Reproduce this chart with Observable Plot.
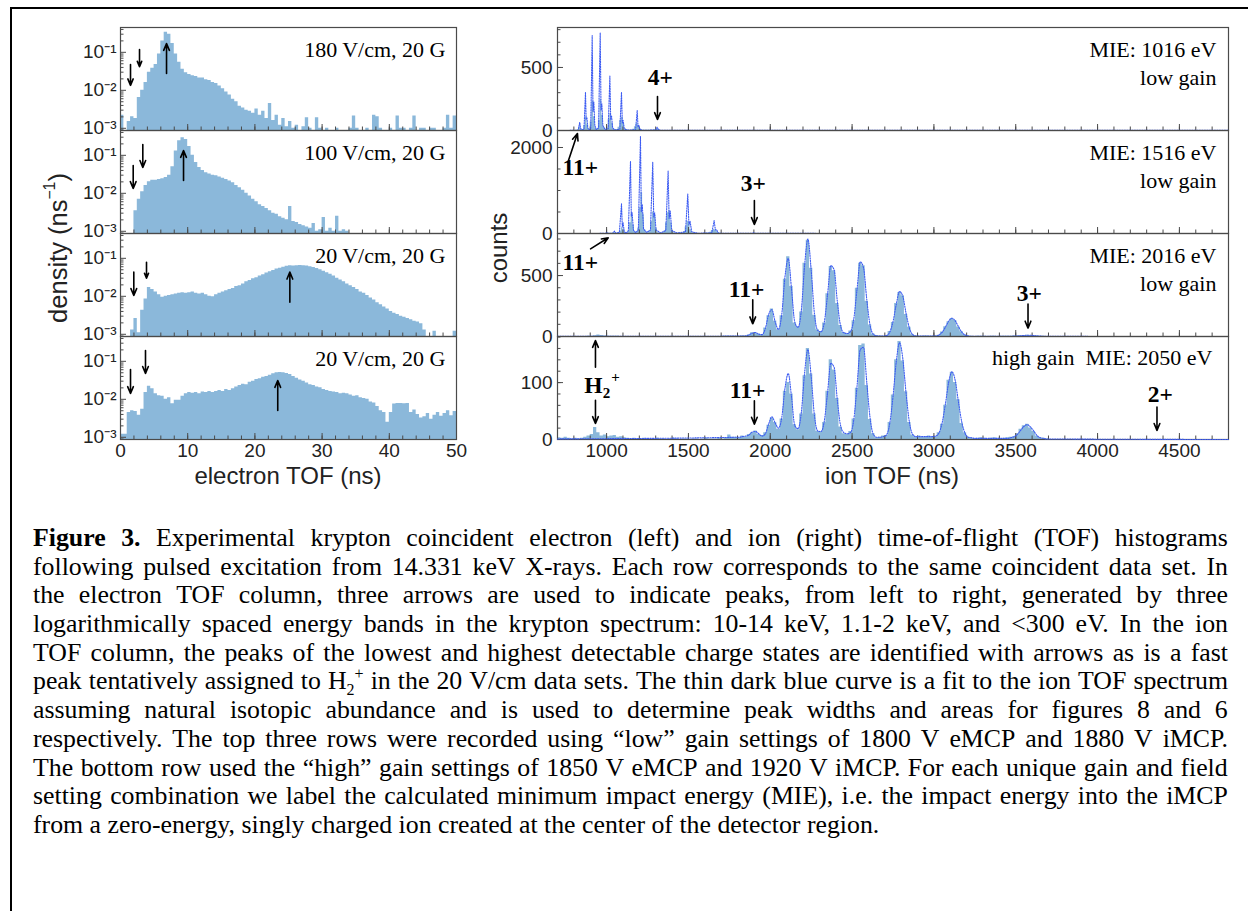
<!DOCTYPE html>
<html><head><meta charset="utf-8">
<script src="https://cdn.jsdelivr.net/npm/d3@7"></script>
<script src="https://cdn.jsdelivr.net/npm/@observablehq/plot@0.6"></script>
<style>
html,body{margin:0;padding:0;background:#fff;}
body{width:1248px;height:911px;overflow:hidden;position:relative;}
#frame{position:absolute;left:10px;top:7px;width:1400px;height:1100px;border:2.5px solid #000;}
#chart{position:absolute;left:0;top:0;width:1248px;height:911px;}
.axlab{position:absolute;font-family:"Liberation Sans",Arial,sans-serif;font-size:24px;color:#222;white-space:nowrap;transform:translate(-50%,-50%);}
.axlab.rot{transform:translate(-50%,-50%) rotate(-90deg);}
.axlab sup{font-size:0.62em;line-height:0;vertical-align:0.7em;}
#caption{position:absolute;left:33px;top:524px;width:1195px;font-family:"Liberation Serif","Times New Roman",serif;font-size:25.8px;line-height:28.7px;color:#000;}
#caption .ln{display:flex;justify-content:space-between;white-space:nowrap;height:28.7px;}
#caption .last{white-space:nowrap;height:28.7px;}
#caption sub,#caption sup{font-size:0.62em;line-height:0;}
</style></head><body>
<div id="frame"></div>
<div id="chart"></div>
<div class="axlab rot" style="left:58px;top:248px;font-size:25.5px;">density (ns<sup>−1</sup>)</div>
<div class="axlab rot" style="left:499px;top:248px;">counts</div>
<div class="axlab" style="left:288px;top:476px;">electron TOF (ns)</div>
<div class="axlab" style="left:892px;top:476px;">ion TOF (ns)</div>
<div id="caption"></div>
<script>
// ---------------- DATA ----------------
// electron TOF histograms: density per 0.5 ns bin, starting at 0 ns
const eStart = 0, eBin = 0.5;
const eDens1 = [0.0022,0,0.0015,0.002,0.0018,0.0065,0.010,0.016,0.030,0.038,
0.048,0.09,0.20,0.34,0.30,0.17,0.09,0.055,0.036,0.029,
0.026,0.024,0.023,0.021,0.021,0.019,0.018,0.016,0.015,0.013,
0.011,0.009,0.0075,0.0058,0.005,0.0038,0.0034,0.003,0.0028,0.0025,
0.0032,0.0022,0.0028,0.0018,0.0045,0.0016,0.0022,0.0012,0.0018,0.0011,
0.0015,0.001,0.0012,0,0.0011,0.0019,0.001,0,0.0019,0.001,
0,0.001,0,0,0.001,0,0,0,0.001,0.0021,
0.001,0,0,0.001,0,0.0022,0.002,0.001,0,0,
0.001,0,0.0021,0.001,0.001,0,0.001,0.0021,0,0.001,
0.001,0,0.001,0.001,0,0,0.001,0.0022,0.001,0.0021];
const eDens2 = [0,0,0,0,0.0035,0.007,0.011,0.016,0.020,0.022,
0.022,0.023,0.024,0.026,0.030,0.05,0.13,0.24,0.29,0.26,
0.17,0.10,0.065,0.048,0.040,0.035,0.032,0.030,0.029,0.027,
0.025,0.023,0.021,0.019,0.016,0.014,0.012,0.010,0.0085,0.007,
0.006,0.005,0.0045,0.004,0.0035,0.003,0.0028,0.0024,0.0022,0.002,
0.0045,0.0018,0.0017,0.0015,0.0014,0.0013,0.0012,0.0016,0.001,0.0011,
0.0023,0.001,0.0012,0.001,0.0025,0.001,0.0011,0.001,0,0,
0,0,0,0,0,0,0,0,0,0,
0,0,0,0,0,0,0,0,0,0,
0,0,0,0,0,0,0,0,0,0];
const eDens3 = [0,0,0,0.0013,0.0026,0.0011,0.0043,0.0085,0.017,0.015,
0.013,0.011,0.0095,0.010,0.0105,0.011,0.0115,0.012,0.0125,0.012,
0.0125,0.013,0.012,0.0115,0.012,0.011,0.010,0.0098,0.011,0.012,
0.013,0.014,0.015,0.016,0.018,0.019,0.021,0.024,0.026,0.029,
0.031,0.034,0.037,0.041,0.044,0.048,0.052,0.055,0.058,0.062,
0.064,0.063,0.064,0.065,0.064,0.063,0.060,0.057,0.054,0.050,
0.046,0.042,0.038,0.034,0.030,0.027,0.024,0.021,0.019,0.017,
0.015,0.013,0.012,0.0105,0.009,0.008,0.0068,0.006,0.0052,0.0046,
0.004,0.0036,0.0033,0.003,0.0028,0.0026,0.0024,0.0022,0.0021,0.0019,
0.0013,0,0,0.0012,0,0,0,0,0,0.0012];
const eDens4 = [0.0012,0.0012,0.0045,0.005,0.0048,0.0038,0.0055,0.015,0.022,0.019,
0.014,0.0125,0.012,0.010,0.011,0.0076,0.0095,0.0095,0.012,0.014,
0.015,0.0145,0.015,0.014,0.0155,0.015,0.016,0.015,0.016,0.017,
0.016,0.018,0.017,0.019,0.021,0.023,0.025,0.024,0.028,0.030,
0.033,0.035,0.038,0.040,0.043,0.047,0.050,0.051,0.050,0.048,
0.045,0.040,0.036,0.032,0.030,0.027,0.024,0.023,0.021,0.020,
0.018,0.017,0.016,0.0155,0.015,0.014,0.0145,0.014,0.013,0.012,
0.0125,0.011,0.0105,0.010,0.0085,0.008,0.0065,0.005,0.0045,0.0025,
0.0045,0.0075,0.0078,0.0078,0.0076,0.0077,0.0045,0.0052,0.004,0.0032,
0.0035,0.0042,0.0030,0.0038,0.0045,0.0036,0.0042,0.005,0.0037,0.0048];
const eLabels = ["180 V/cm, 20 G", "100 V/cm, 20 G", "20 V/cm, 20 G", "20 V/cm, 20 G"];
// arrows [t1, density1, t2, density2] (tail -> head)
const eArrows1 = [[1.49,0.048,1.49,0.0135],[2.83,0.119,2.83,0.042],[6.85,0.0277,6.85,0.171]];
const eArrows2 = [[1.89,0.054,1.89,0.0134],[3.32,0.193,3.32,0.048],[9.38,0.0217,9.38,0.134]];
const eArrows3 = [[1.98,0.0432,1.98,0.0105],[3.87,0.079,3.87,0.030],[25.2,0.0070,25.2,0.0432]];
const eArrows4 = [[1.49,0.061,1.49,0.0142],[3.72,0.193,3.72,0.048],[23.4,0.0051,23.4,0.0313]];
const eTicksX = [0,10,20,30,40,50];
const eTicksY = [0.001,0.01,0.1];

// ion TOF histograms (counts per bin)
const ion1Start = 820, ion1Bin = 10;
const ion1Counts = [5,28,12,5,40,105,45,10,70,230,110,20,8,80,245,120,25,5,20,90,135,60,10,4,5,25,80,105,55,12,4,2,2,3,10,30,55,40,12,3,2,1,1,1,1,1,2,5,10,8,3];
const ion2Start = 990, ion2Bin = 10;
const ion2Counts = [2,10,3,2,5,20,12,3,8,60,132,90,20,8,60,250,470,200,30,15,120,600,945,450,80,20,15,60,280,500,420,120,20,10,8,15,60,250,480,530,250,60,10,5,3,3,5,10,40,150,287,250,90,20,5,3,2,2,2,2,2,3,5,10,30,70,93,80,40,10,3,2];
const ion3Start = 700, ion3Bin = 20;
const ion3Counts = [1,0,1,0,1,1,0,1,1,2,3,6,12,8,4,3,2,3,2,1,1,1,0,1,0,1,0,1,0,1,0,1,0,0,1,0,1,0,0,1,0,1,0,1,0,1,1,0,1,1,2,2,3,3,3,
3,5,4,12,30,28,20,14,70,170,
226,128,55,170,470,655,410,110,80,200,
600,790,560,175,55,40,110,350,575,540,
270,90,32,22,45,130,395,600,580,290,
95,20,6,4,3,9,40,115,270,360,
335,180,75,14,5,3,2,4,3,2,
5,10,36,80,120,148,132,78,38,10,
5,2,1,2,3,2,1,2,3,1,
2,2,3,2,4,5,7,9,11,9,
7,4,3,2,1];
const ion4Start = 700, ion4Bin = 20;
const ion4Counts = [3,2,4,2,1,2,1,2,4,6,9,21,12,6,8,5,6,7,4,5,3,2,1,2,1,1,2,1,0,1,2,1,1,0,1,2,1,0,1,1,0,1,1,0,1,2,1,1,1,2,1,3,8,4,4,
3,6,5,9,12,15,9,7,12,25,
38,30,18,36,85,100,80,26,17,45,
112,160,115,45,14,13,30,85,140,122,
72,22,10,9,14,36,90,165,168,95,
35,10,3,4,6,7,30,78,140,172,
138,84,30,8,4,6,4,5,6,4,
5,12,27,60,104,118,100,70,28,12,
4,2,1,2,3,2,1,2,3,2,
1,2,3,4,5,10,18,24,27,20,
14,6,3,2,1];

// fit curves [tof, counts]
const ion1Fit = [[700,0],[826,1],[836,66],[840,25],[844,8],[852,5],[862,10],[871,304],[875,90],[880,100],[885,20],[893,5],[903,15],[912,754],[917,150],[922,225],[928,40],[937,8],[951,20],[961,775],[966,160],[971,212],[977,40],[990,8],[1010,15],[1020,431],[1025,90],[1030,119],[1037,20],[1050,5],[1081,10],[1091,304],[1096,60],[1101,80],[1108,15],[1125,3],[1177,5],[1187,159],[1192,30],[1197,40],[1204,8],[1220,2],[1300,3],[1309,26],[1318,3],[1340,1],[4800,1]];
const ion2Fit = [[700,0],[990,2],[1000,20],[1010,2],[1038,5],[1048,54],[1058,5],[1078,30],[1091,690],[1096,150],[1101,250],[1108,40],[1120,10],[1133,60],[1146,1680],[1151,400],[1156,480],[1164,80],[1178,20],[1194,80],[1207,2260],[1212,500],[1218,674],[1226,100],[1245,25],[1268,80],[1282,1660],[1288,380],[1294,480],[1302,80],[1330,15],[1362,70],[1376,1450],[1382,350],[1389,520],[1398,70],[1430,10],[1482,40],[1496,920],[1503,200],[1510,287],[1520,40],[1560,5],[1643,15],[1657,300],[1665,80],[1672,90],[1682,10],[1720,2],[1890,2],[1899,15],[1910,2],[4800,0]];
const fitStart = 1810, fitStep = 20, fitEnds = [700, 4800];
const ion3Fit = [3,4,5,13,27,33,18,15,66,180,
220,120,58,179,490,640,390,116,75,215,
585,800,546,186,50,38,115,341,581,548,
286,85,30,25,40,140,384,612,564,300,
92,18,5,4,4,8,36,121,264,369,
330,189,70,16,4,3,3,3,3,3,
4,12,34,76,125,150,129,81,36,12,
4,2,2,2,2,2,2,2,2,2,
2,2,2,2,3,4,6,8,10,10,
8,5,3,2,1];
const ion4Fit = [4,5,6,8,13,14,10,6,10,27,
40,29,20,38,90,116,75,24,19,48,
118,158,111,42,15,14,32,82,134,127,
69,24,12,10,12,34,93,158,162,100,
38,9,4,4,5,8,28,75,137,170,
142,81,31,9,5,5,5,5,5,5,
6,11,29,62,100,119,104,66,31,11,
4,3,2,2,2,2,2,2,2,2,
2,2,2,3,5,9,16,23,26,22,
15,7,3,2,1];

const ionLabels = ["MIE: 1016 eV", "MIE: 1516 eV", "MIE: 2016 eV", "MIE: 2050 eV"];
const ionGain = ["low gain", "low gain", "low gain", "high gain"];
// charge-state annotations [tof, counts, text] and arrows [t1,c1,t2,c2]
const ion1Notes = [[1329,421,"4+"],[840,-294,"11+"]];
const ion1Arrows = [[1311,270,1311,87],[767,-238,822,-24]];
const ion2Notes = [[1897,1170,"3+"],[840,-667,"11+"]];
const ion2Arrows = [[1903,767,1903,209],[902,-356,1010,-100]];
const ion3Notes = [[1855,388,"11+"],[3583,356,"3+"]];
const ion3Arrows = [[1893,301,1893,104],[3575,267,3575,69]];
const ion4Notes = [[1861,86.5,"11+"],[4384,79,"2+"],[920,95,"H"]];
const ion4Arrows = [[1903,68,1903,27],[4363,57,4363,16],[932,127,932,174],[932,69,932,28]];
const ionTicksX = [1000,1500,2000,2500,3000,3500,4000,4500];
const ionTicksY = [[0,500],[0,2000],[0,500],[0,100]];
const ionMinorStep = [100,500,100,20];
const ionYMax = [817,2395,845,181];

const captionLines = [
"Figure 3. Experimental krypton coincident electron (left) and ion (right) time-of-flight (TOF) histograms",
"following pulsed excitation from 14.331 keV X-rays. Each row corresponds to the same coincident data set. In",
"the electron TOF column, three arrows are used to indicate peaks, from left to right, generated by three",
"logarithmically spaced energy bands in the krypton spectrum: 10-14 keV, 1.1-2 keV, and <300 eV. In the ion",
"TOF column, the peaks of the lowest and highest detectable charge states are identified with arrows as is a fast",
"peak tentatively assigned to H₂⁺ in the 20 V/cm data sets. The thin dark blue curve is a fit to the ion TOF spectrum",
"assuming natural isotopic abundance and is used to determine peak widths and areas for figures 8 and 6",
"respectively. The top three rows were recorded using “low” gain settings of 1800 V eMCP and 1880 V iMCP.",
"The bottom row used the “high” gain settings of 1850 V eMCP and 1920 V iMCP. For each unique gain and field",
"setting combination we label the calculated minimum impact energy (MIE), i.e. the impact energy into the iMCP",
"from a zero-energy, singly charged ion created at the center of the detector region."
];

// ---------------- LAYOUT / STYLE ----------------
const HIST = "#8bb8da", FIT = "#3d5cf2", AX = "#4a4a4a", SERIF = "Liberation Serif, Times New Roman, serif";
const SANS = "Liberation Sans, Arial, sans-serif";
const rowTops = [27,130,233,336], rowH = 103;
const eLeft = 120, eW = 336, iLeft = 557, iW = 671;
const ML = 100, MR = 14, MT = 14, MB = 14;
const eDomain = [0.000875, 0.45];
const chart = document.getElementById("chart");
const baseStyle = {background: "transparent", overflow: "visible", fontFamily: SANS, fontSize: "19px", color: "#222"};
const intFmt = d3.format("d");

function place(svg, left, top, w) {
  const d = document.createElement("div");
  d.style.cssText = `position:absolute;left:${left}px;top:${top}px;width:${w}px;`;
  d.appendChild(svg);
  chart.appendChild(d);
}
const supMap = {"-":"⁻","0":"⁰","1":"¹","2":"²","3":"³","4":"⁴"};
const supFmt = v => "10" + String(Math.round(Math.log10(v))).split("").map(c => supMap[c]).join("");

const eMinorY = [];
for (let k = -4; k <= 0; k++) for (let m = 2; m <= 9; m++) {
  const v = m * Math.pow(10, k);
  if (v > eDomain[0] && v < eDomain[1]) eMinorY.push(v);
}
const eMinorX = d3.range(0, 51, 2);

const eData = [eDens1, eDens2, eDens3, eDens4];
const eArr = [eArrows1, eArrows2, eArrows3, eArrows4];

eData.forEach((dens, k) => {
  const pts = dens.map((v, i) => ({t: eStart + i * eBin, v}));
  pts.push({t: eStart + dens.length * eBin, v: dens[dens.length - 1]});
  const marks = [
    Plot.areaY(pts, {x: "t", y1: eDomain[0], y2: d => Math.max(d.v, eDomain[0]), curve: "step-after", fill: HIST}),
    Plot.tickY(eMinorY, {y: d => d, stroke: AX, insetRight: eW - 3.5}),
    Plot.tickY(eTicksY, {y: d => d, stroke: AX, insetRight: eW - 6}),
    Plot.tickX(eMinorX, {x: d => d, stroke: AX, insetTop: rowH - 3.5}),
    Plot.tickX(eTicksX, {x: d => d, stroke: AX, insetTop: rowH - 6}),
    Plot.frame({stroke: AX, strokeWidth: 1.2}),
    Plot.axisY(eTicksY, {tickSize: 0, tickPadding: 4, tickFormat: supFmt, label: null, fontSize: 19}),
    Plot.arrow(eArr[k], {x1: d => d[0], y1: d => d[1], x2: d => d[2], y2: d => d[3], stroke: "#000", strokeWidth: 1.6, headLength: 7, headAngle: 45}),
    Plot.text([eLabels[k]], {frameAnchor: "top-right", dx: -11, dy: 22, lineAnchor: "middle", fontFamily: SERIF, fontSize: 22, fill: "#000"})
  ];
  if (k === 3) marks.push(Plot.axisX(eTicksX, {tickSize: 0, tickPadding: 4, label: null, fontSize: 19, tickFormat: intFmt}));
  const svg = Plot.plot({
    width: eW + ML + MR, height: rowH + MT + MB,
    marginLeft: ML, marginRight: MR, marginTop: MT, marginBottom: MB,
    x: {domain: [0, 50], axis: null},
    y: {type: "log", domain: eDomain, axis: null},
    style: baseStyle, marks
  });
  place(svg, eLeft - ML, rowTops[k] - MT, eW + ML + MR);
});

// ion panels
const ionHist = [[ion1Start, ion1Bin, ion1Counts],[ion2Start, ion2Bin, ion2Counts],[ion3Start, ion3Bin, ion3Counts],[ion4Start, ion4Bin, ion4Counts]];
function gridFit(vals) {
  const p = [[fitEnds[0], 1]];
  vals.forEach((c, i) => p.push([fitStart + i * fitStep, c]));
  p.push([fitEnds[1], 0]);
  return p;
}
const ionFits = [ion1Fit, ion2Fit, gridFit(ion3Fit), gridFit(ion4Fit)];
const ionNotes = [ion1Notes, ion2Notes, ion3Notes, ion4Notes];
const ionArrs = [ion1Arrows, ion2Arrows, ion3Arrows, ion4Arrows];
const ionMinorX = d3.range(700, 4801, 100);

ionHist.forEach(([start, bin, counts], k) => {
  const pts = counts.map((c, i) => ({t: start + i * bin, c}));
  pts.push({t: start + counts.length * bin, c: counts[counts.length - 1]});
  const minorY = d3.range(0, ionYMax[k], ionMinorStep[k]);
  const marks = [
    Plot.areaY(pts, {x: "t", y: "c", curve: "step-after", fill: HIST}),
    Plot.tickY(minorY, {y: d => d, stroke: AX, insetRight: iW - 3.5}),
    Plot.tickY(ionTicksY[k], {y: d => d, stroke: AX, insetRight: iW - 6}),
    Plot.tickX(ionMinorX, {x: d => d, stroke: AX, insetTop: rowH - 3.5}),
    Plot.tickX(ionTicksX, {x: d => d, stroke: AX, insetTop: rowH - 6}),
    Plot.frame({stroke: AX, strokeWidth: 1.2}),
    Plot.line(ionFits[k], {x: d => d[0], y: d => d[1], stroke: FIT, strokeWidth: 1.1, strokeDasharray: "1.2,1.3", curve: k >= 2 ? "monotone-x" : "linear"}),
    Plot.axisY(ionTicksY[k], {tickSize: 0, tickPadding: 5, label: null, fontSize: 19, tickFormat: intFmt}),
    Plot.arrow(ionArrs[k], {x1: d => d[0], y1: d => d[1], x2: d => d[2], y2: d => d[3], stroke: "#000", strokeWidth: 1.6, headLength: 7, headAngle: 45}),
    Plot.text(ionNotes[k], {x: d => d[0], y: d => d[1], text: d => d[2], lineAnchor: "middle", fontFamily: SERIF, fontWeight: "bold", fontSize: 23.5, fill: "#000"})
  ];
  if (k === 3) {
    const h = ionNotes[k].filter(d => d[2] === "H");
    marks.push(Plot.text(h, {x: d => d[0], y: d => d[1], text: () => "2", dx: 13, dy: 8, lineAnchor: "middle", fontFamily: SERIF, fontWeight: "bold", fontSize: 15, fill: "#000"}));
    marks.push(Plot.text(h, {x: d => d[0], y: d => d[1], text: () => "+", dx: 22, dy: -8, lineAnchor: "middle", fontFamily: SERIF, fontWeight: "bold", fontSize: 15, fill: "#000"}));
    marks.push(Plot.text([ionGain[k] + "\u00a0\u00a0" + ionLabels[k]], {frameAnchor: "top-right", dx: -16, dy: 21, lineAnchor: "middle", fontFamily: SERIF, fontSize: 22, fill: "#000"}));
    marks.push(Plot.axisX(ionTicksX, {tickSize: 0, tickPadding: 4, label: null, fontSize: 19, tickFormat: intFmt}));
  } else {
    marks.push(Plot.text([ionLabels[k]], {frameAnchor: "top-right", dx: -12, dy: 22, lineAnchor: "middle", fontFamily: SERIF, fontSize: 22, fill: "#000"}));
    marks.push(Plot.text([ionGain[k]], {frameAnchor: "top-right", dx: -12, dy: 50, lineAnchor: "middle", fontFamily: SERIF, fontSize: 22, fill: "#000"}));
  }
  const svg = Plot.plot({
    width: iW + ML + MR, height: rowH + MT + MB,
    marginLeft: ML, marginRight: MR, marginTop: MT, marginBottom: MB,
    x: {domain: [700, 4800], axis: null},
    y: {domain: [0, ionYMax[k]], axis: null},
    style: baseStyle, marks
  });
  place(svg, iLeft - ML, rowTops[k] - MT, iW + ML + MR);
});

// caption
const cap = document.getElementById("caption");
captionLines.forEach((line, i) => {
  const isLast = i === captionLines.length - 1;
  const div = document.createElement("div");
  div.className = isLast ? "last" : "ln";
  line.split(" ").forEach((w, j) => {
    const s = document.createElement("span");
    if (i === 0 && j < 2) s.style.fontWeight = "bold";
    if (w.startsWith("H₂⁺")) s.innerHTML = "H<sub>2</sub><sup>+</sup>" + w.slice(3);
    else s.textContent = w;
    div.appendChild(s);
    if (isLast) div.appendChild(document.createTextNode(" "));
  });
  cap.appendChild(div);
});
</script>
</body></html>
